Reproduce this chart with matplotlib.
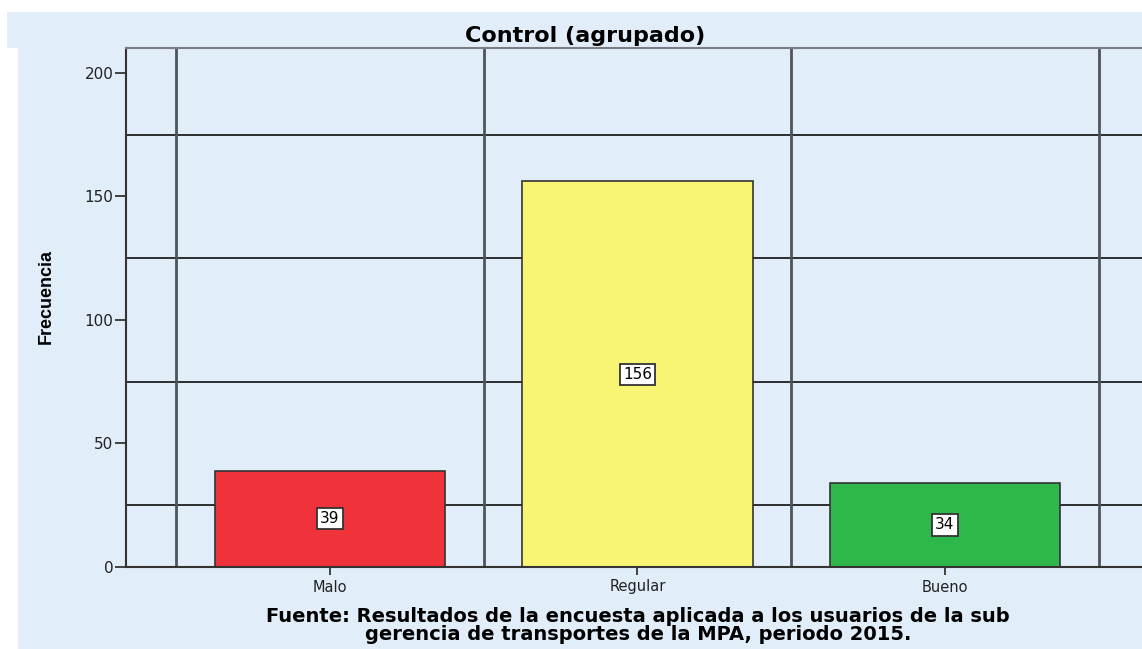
import matplotlib
matplotlib.use("Agg")
import matplotlib.pyplot as plt
from matplotlib.patches import Rectangle

categories = ["Malo", "Regular", "Bueno"]
values = [39, 156, 34]
bar_colors = ["#f0323a", "#f9f574", "#2eb84b"]
yticks = [0, 50, 100, 150, 200]
hgrid = [25, 75, 125, 175]
title = "Control (agrupado)"
ylabel = "Frecuencia"
foot_lines = ["Fuente: Resultados de la encuesta aplicada a los usuarios de la sub",
              "gerencia de transportes de la MPA, periodo 2015."]

BG = "#e1edf9"
W, H = 1142, 649
fig = plt.figure(figsize=(W / 100, H / 100), dpi=100, facecolor="white")

# background panels
fig.patches.append(Rectangle((7 / W, 1 - 48 / H), 1 - 7 / W, 36 / H,
                             transform=fig.transFigure, facecolor=BG, edgecolor="none", zorder=-10))
fig.patches.append(Rectangle((18 / W, 0), 1 - 18 / W, 1 - 48 / H,
                             transform=fig.transFigure, facecolor=BG, edgecolor="none", zorder=-10))

ax = fig.add_axes([126 / W, 1 - 567 / H, 1 - 126 / W, (567 - 48) / H])
ax.set_facecolor(BG)
x = list(range(len(categories)))
ax.set_xlim(-0.663, 2.641)
ax.set_ylim(0, 210)

for g in hgrid:
    ax.axhline(g, color="#1e1e1e", lw=1.3, zorder=1)
for b in [-0.5, 0.5, 1.5, 2.5]:
    ax.axvline(b, color="#50545a", lw=2.0, zorder=1)

ax.bar(x, values, width=0.75, color=bar_colors, edgecolor="#333333", linewidth=1.2, zorder=2)
for xi, v in zip(x, values):
    ax.text(xi, v / 2, str(v), ha="center", va="center", fontsize=11, color="black", zorder=3,
            family="DejaVu Sans",
            bbox=dict(boxstyle="square,pad=0.2", facecolor="white", edgecolor="#333333", linewidth=1.3))

ax.set_xticks(x)
ax.set_xticklabels(categories, fontsize=10.5, color="#222222", family="DejaVu Sans")
ax.set_yticks(yticks)
ax.set_yticklabels([str(t) for t in yticks], fontsize=11, color="#222222", family="DejaVu Sans")
ax.tick_params(axis="y", length=8, width=1.3, color="#333333", pad=1)
ax.tick_params(axis="x", length=6, width=1.3, color="#333333", pad=3)

for s in ["right", "bottom"]:
    ax.spines[s].set_visible(False)
ax.axhline(0, color="#333333", lw=1.5, zorder=4, clip_on=False)
ax.spines["left"].set_color("#333333")
ax.spines["left"].set_linewidth(1.5)
ax.spines["top"].set_color("#7a7e84")
ax.spines["top"].set_linewidth(1.5)

fig.text(585 / W, 1 - 42 / H, title, ha="center", va="baseline", fontsize=16,
         fontweight="bold", family=["DejaVu Sans"], color="black")
fig.text(46 / W, 1 - 297 / H, ylabel, ha="center", va="center", rotation=90, fontsize=13,
         fontweight="bold", family=["Liberation Sans Narrow", "Liberation Sans", "DejaVu Sans"])
fig.text(638 / W, 1 - 622 / H, foot_lines[0], ha="center", va="baseline", fontsize=14,
         fontweight="bold", family=["DejaVu Sans"])
fig.text(638 / W, 1 - 640 / H, foot_lines[1], ha="center", va="baseline", fontsize=14,
         fontweight="bold", family=["DejaVu Sans"])

fig.savefig("out.png", dpi=100, facecolor="white")
